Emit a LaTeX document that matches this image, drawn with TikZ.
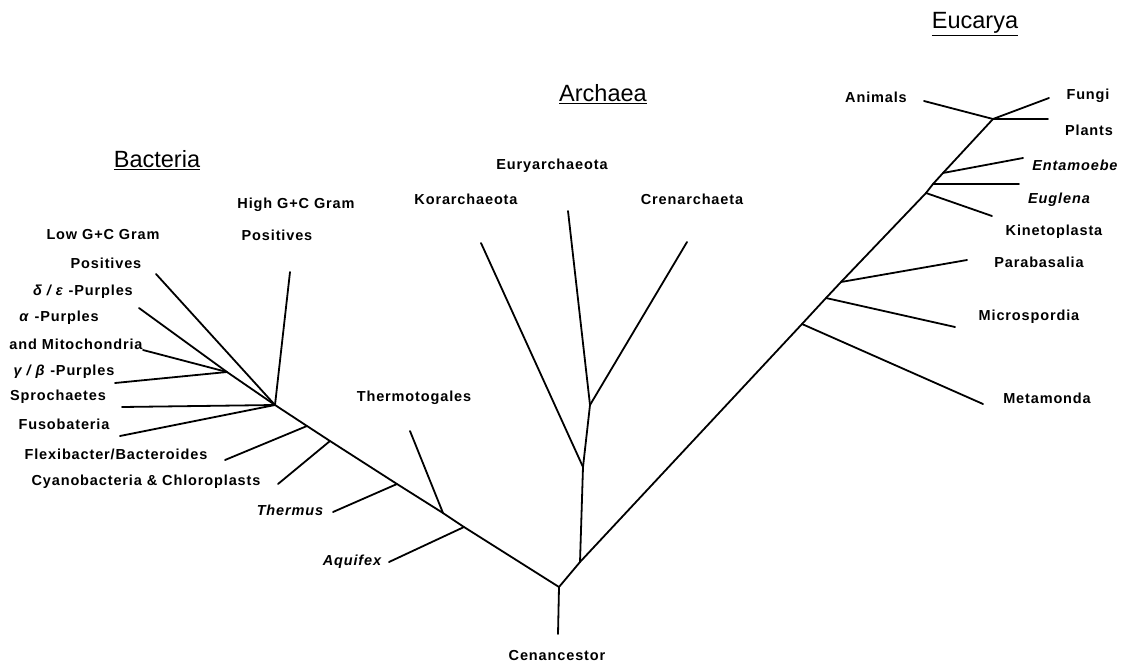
\documentclass[tikz,border=0pt]{standalone}
\usepackage{fontspec}
\setmainfont{Liberation Sans}
\newfontfamily\lblfont[LetterSpace=6]{Liberation Sans}
\begin{document}
\begin{tikzpicture}[x=1pt,y=-1pt,
  br/.style={line width=1.8pt,line cap=round,line join=round},
  lbl/.style={inner sep=0pt,font=\lblfont\fontsize{14.5}{15}\selectfont\bfseries},
  ilbl/.style={inner sep=0pt,font=\lblfont\fontsize{14.5}{15}\selectfont\bfseries\itshape},
  head/.style={inner sep=0pt,font=\fontsize{23.5}{24}\selectfont}]
\useasboundingbox[fill=white] (0,0) rectangle (1123,666);
% tree coordinates
\coordinate (root) at (559,587);
\coordinate (cen) at (558,634);
\coordinate (nAq) at (464,527);   \coordinate (tAq) at (389,562);
\coordinate (nTt) at (443,513);   \coordinate (tTt) at (410,431);
\coordinate (nTh) at (397,484);   \coordinate (tTh) at (333,512);
\coordinate (nCy) at (330,441);   \coordinate (tCy) at (278,484);
\coordinate (nFl) at (307,426);   \coordinate (tFl) at (225,460);
\coordinate (hub) at (275,405);
\coordinate (tHi) at (290,272);
\coordinate (tLo) at (156,274);
\coordinate (tSp) at (122,407);
\coordinate (tFu) at (120,436);
\coordinate (nPr) at (227,372);
\coordinate (tDe) at (139,308);
\coordinate (tAl) at (143,350);
\coordinate (tGa) at (115,383);
% archaea
\coordinate (a0) at (580,562);
\coordinate (a1) at (583,467);
\coordinate (a2) at (590,405);
\coordinate (tEu) at (568,211);
\coordinate (tCr) at (687,242);
\coordinate (tKo) at (481,243);
% eucarya
\coordinate (crown) at (993,119);
\coordinate (nMe) at (802,324); \coordinate (tMe) at (983,404);
\coordinate (nMi) at (826,298); \coordinate (tMi) at (955,327);
\coordinate (nPa) at (841,282); \coordinate (tPa) at (967,260);
\coordinate (nKi) at (926,193); \coordinate (tKi) at (992,216);
\coordinate (nEg) at (933,184); \coordinate (tEg) at (1019,184);
\coordinate (nEn) at (943,173); \coordinate (tEn) at (1023,158);
\coordinate (tAn) at (924,101);
\coordinate (tFg) at (1049,98);
\coordinate (tPl) at (1048,119);
% branches
\draw[br] (cen) -- (root);
\draw[br] (root) -- (nAq) -- (nTt) -- (nTh) -- (nCy) -- (nFl) -- (hub);
\draw[br] (nAq) -- (tAq);
\draw[br] (nTt) -- (tTt);
\draw[br] (nTh) -- (tTh);
\draw[br] (nCy) -- (tCy);
\draw[br] (nFl) -- (tFl);
\draw[br] (hub) -- (tHi);
\draw[br] (hub) -- (tLo);
\draw[br] (hub) -- (tSp);
\draw[br] (hub) -- (tFu);
\draw[br] (hub) -- (nPr) -- (tDe);
\draw[br] (nPr) -- (tAl);
\draw[br] (nPr) -- (tGa);
\draw[br] (root) -- (a0) -- (a1) -- (a2) -- (tEu);
\draw[br] (a2) -- (tCr);
\draw[br] (a1) -- (tKo);
\draw[br] (a0) -- (nMe) -- (nMi) -- (nPa) -- (nKi) -- (nEg) -- (nEn) -- (crown);
\draw[br] (nMe) -- (tMe);
\draw[br] (nMi) -- (tMi);
\draw[br] (nPa) -- (tPa);
\draw[br] (nKi) -- (tKi);
\draw[br] (nEg) -- (tEg);
\draw[br] (nEn) -- (tEn);
\draw[br] (crown) -- (tAn);
\draw[br] (crown) -- (tFg);
\draw[br] (crown) -- (tPl);
% headings
\node[head] (hBac) at (157,160) {\underline{Bacteria}};
\node[head] (hArc) at (603,94) {\underline{Archaea}};
\node[head] (hEuc) at (975,24) {\underline{Eucarya}};
% labels
\node[lbl] (lHi1) at (296,205) {High G+C Gram};
\node[lbl] (lHi2) at (277,235) {Positives};
\node[lbl] (lLo1) at (103,235) {Low G+C Gram};
\node[lbl] (lLo2) at (106,263) {Positives};
\node[lbl] (lDe) at (83,292) {\textit{δ / ε} -Purples};
\node[lbl] (lAl1) at (59,318) {\textit{α} -Purples};
\node[lbl] (lAl2) at (76,344) {and Mitochondria};
\node[lbl] (lGa) at (64,372) {\textit{γ / β} -Purples};
\node[lbl] (lSp) at (58,397) {Sprochaetes};
\node[lbl] (lFu) at (64,424) {Fusobateria};
\node[lbl] (lFl) at (116,454) {Flexibacter/Bacteroides};
\node[lbl] (lCy) at (146,482) {Cyanobacteria \& Chloroplasts};
\node[ilbl] (lTh) at (290,510) {Thermus};
\node[lbl] (lTt) at (414,398) {Thermotogales};
\node[ilbl] (lAq) at (352,562) {Aquifex};
\node[lbl] (lCe) at (557,655) {Cenancestor};
\node[lbl] (lKo) at (466,199) {Korarchaeota};
\node[lbl] (lEu) at (552,166) {Euryarchaeota};
\node[lbl] (lCr) at (692,199) {Crenarchaeta};
\node[lbl] (lAn) at (876,97) {Animals};
\node[lbl] (lFg) at (1088,96) {Fungi};
\node[lbl] (lPl) at (1089,130) {Plants};
\node[ilbl] (lEn) at (1075,165) {Entamoebe};
\node[ilbl] (lEg) at (1059,200) {Euglena};
\node[lbl] (lKi) at (1054,232) {Kinetoplasta};
\node[lbl] (lPa) at (1039,262) {Parabasalia};
\node[lbl] (lMi) at (1029,317) {Microspordia};
\node[lbl] (lMe) at (1047,398) {Metamonda};
\end{tikzpicture}
\end{document}
